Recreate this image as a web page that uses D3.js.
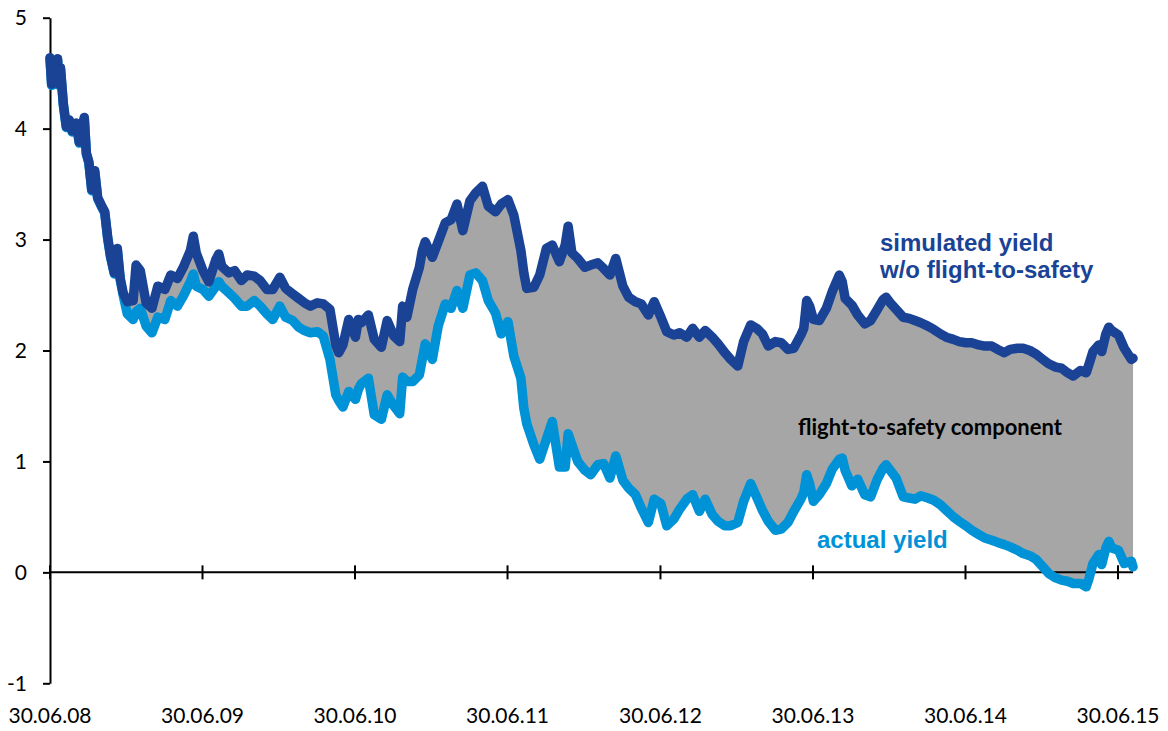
<!DOCTYPE html>
<html>
<head>
<meta charset="utf-8">
<script src="https://cdn.jsdelivr.net/npm/d3@7"></script>
<style>
  html, body { margin: 0; padding: 0; background: #fff; }
  svg { display: block; }
</style>
</head>
<body>
<svg id="chart" width="1168" height="731"></svg>
<script>
// ---------------- data ----------------
const dates = [
  "2008-06-30","2008-07-04","2008-07-08","2008-07-11","2008-07-15","2008-07-18","2008-07-22","2008-07-25","2008-08-01","2008-08-08","2008-08-15","2008-08-22","2008-09-01","2008-09-08","2008-09-15","2008-09-20","2008-09-25","2008-10-01","2008-10-08","2008-10-15","2008-10-22","2008-11-01","2008-11-08","2008-11-15","2008-11-22","2008-12-01","2008-12-08","2008-12-15","2008-12-22",
  "2009-01-01","2009-01-15","2009-01-22","2009-02-01","2009-02-15","2009-03-01","2009-03-15","2009-04-01","2009-04-15","2009-05-01","2009-05-15","2009-06-01","2009-06-08","2009-06-15",
  "2009-07-01","2009-07-15","2009-08-01","2009-08-08","2009-08-15","2009-09-01","2009-09-15","2009-10-01","2009-10-15","2009-11-01","2009-11-15","2009-12-01","2009-12-15",
  "2010-01-01","2010-01-15","2010-02-01","2010-02-15","2010-03-01","2010-03-15","2010-04-01","2010-04-15","2010-05-01","2010-05-15","2010-05-22","2010-06-01","2010-06-15",
  "2010-07-01","2010-07-08","2010-07-15","2010-08-01","2010-08-15","2010-09-01","2010-09-15","2010-10-01","2010-10-15","2010-10-22","2010-11-01","2010-11-15","2010-12-01","2010-12-08","2010-12-15",
  "2011-01-01","2011-01-15","2011-02-01","2011-02-15","2011-03-01","2011-03-15","2011-04-01","2011-04-15","2011-05-01","2011-05-15","2011-06-01","2011-06-15",
  "2011-07-01","2011-07-15","2011-08-01","2011-08-08","2011-08-15","2011-09-01","2011-09-15","2011-10-01","2011-10-15","2011-11-01","2011-11-15","2011-11-22","2011-12-01","2011-12-15",
  "2012-01-01","2012-01-15","2012-02-01","2012-02-15","2012-03-01","2012-03-15","2012-04-01","2012-04-15","2012-05-01","2012-05-15","2012-06-01","2012-06-15",
  "2012-07-01","2012-07-15","2012-08-01","2012-08-15","2012-09-01","2012-09-15","2012-10-01","2012-10-15","2012-11-01","2012-11-15","2012-12-01","2012-12-15",
  "2013-01-01","2013-01-15","2013-02-01","2013-02-15","2013-03-01","2013-03-15","2013-04-01","2013-04-15","2013-05-01","2013-05-15","2013-06-01","2013-06-08","2013-06-15","2013-06-22",
  "2013-07-01","2013-07-15","2013-08-01","2013-08-15","2013-09-01","2013-09-08","2013-09-15","2013-10-01","2013-10-15","2013-11-01","2013-11-15","2013-12-01","2013-12-15","2013-12-22",
  "2014-01-01","2014-01-15","2014-02-01","2014-02-15","2014-03-01","2014-03-15","2014-04-01","2014-04-15","2014-05-01","2014-05-15","2014-06-01","2014-06-15",
  "2014-07-01","2014-07-15","2014-08-01","2014-08-15","2014-09-01","2014-09-15","2014-10-01","2014-10-15","2014-11-01","2014-11-15","2014-12-01","2014-12-15",
  "2015-01-01","2015-01-15","2015-02-01","2015-02-15","2015-03-01","2015-03-15","2015-04-01","2015-04-15","2015-04-22","2015-05-01","2015-05-15","2015-05-22","2015-06-01","2015-06-08","2015-06-15",
  "2015-07-01","2015-07-15","2015-08-01","2015-08-05"
];

// simulated yield w/o flight-to-safety (dark blue)
const simulatedYield = [
  4.64,4.40,4.60,4.42,4.45,4.63,4.40,4.55,4.22,4.02,4.08,3.98,4.05,3.88,4.00,4.10,3.78,3.70,3.45,3.62,3.38,3.30,3.25,3.02,2.85,2.70,2.92,2.65,2.52,
  2.44,2.45,2.77,2.72,2.43,2.38,2.58,2.55,2.68,2.65,2.75,2.90,3.03,2.88,
  2.72,2.62,2.82,2.87,2.76,2.70,2.72,2.63,2.68,2.67,2.63,2.55,2.55,
  2.66,2.56,2.51,2.47,2.43,2.40,2.43,2.42,2.37,2.05,1.98,2.05,2.28,
  2.12,2.28,2.25,2.32,2.10,2.03,2.27,2.13,2.08,2.40,2.30,2.55,2.75,2.90,2.98,
  2.84,2.98,3.15,3.18,3.32,3.08,3.35,3.42,3.48,3.30,3.25,3.32,
  3.36,3.22,2.90,2.70,2.56,2.57,2.68,2.92,2.95,2.80,2.95,3.12,2.88,2.83,
  2.75,2.77,2.79,2.74,2.68,2.83,2.58,2.48,2.44,2.42,2.32,2.44,
  2.30,2.17,2.14,2.16,2.12,2.20,2.12,2.18,2.12,2.06,1.98,1.92,
  1.86,2.08,2.23,2.20,2.15,2.04,2.08,2.07,2.01,2.02,2.14,2.20,2.45,2.40,
  2.28,2.27,2.38,2.53,2.68,2.62,2.47,2.41,2.32,2.24,2.27,2.37,2.46,2.48,
  2.43,2.37,2.30,2.29,2.27,2.25,2.22,2.19,2.15,2.12,2.10,2.08,
  2.07,2.07,2.05,2.04,2.04,2.01,1.98,2.01,2.02,2.02,2.00,1.97,
  1.92,1.88,1.85,1.84,1.80,1.77,1.82,1.80,1.88,1.99,2.05,1.99,2.15,2.21,2.18,
  2.14,2.02,1.92,1.93
];

// actual yield (light blue)
const actualYield = [
  4.63,4.39,4.59,4.41,4.44,4.62,4.39,4.54,4.21,4.01,4.07,3.97,4.04,3.87,3.99,4.09,3.77,3.69,3.44,3.61,3.37,3.29,3.24,3.01,2.84,2.69,2.91,2.64,2.50,
  2.33,2.28,2.35,2.38,2.22,2.16,2.30,2.28,2.45,2.40,2.49,2.62,2.69,2.58,
  2.55,2.49,2.58,2.62,2.58,2.52,2.47,2.40,2.40,2.45,2.40,2.33,2.28,
  2.40,2.30,2.27,2.21,2.18,2.16,2.17,2.13,1.92,1.60,1.55,1.49,1.63,
  1.56,1.65,1.70,1.75,1.42,1.38,1.60,1.50,1.43,1.76,1.72,1.72,1.78,1.92,2.06,
  1.92,2.22,2.42,2.38,2.54,2.38,2.68,2.70,2.63,2.45,2.34,2.15,
  2.26,1.95,1.75,1.48,1.34,1.15,1.02,1.20,1.36,0.95,0.95,1.25,1.15,1.00,
  0.92,0.88,0.97,0.98,0.85,1.05,0.83,0.76,0.70,0.58,0.45,0.66,
  0.62,0.42,0.48,0.57,0.66,0.70,0.55,0.66,0.52,0.46,0.42,0.42,
  0.45,0.64,0.80,0.68,0.56,0.46,0.38,0.39,0.45,0.55,0.66,0.72,0.88,0.80,
  0.64,0.70,0.80,0.93,1.02,1.03,0.92,0.78,0.84,0.70,0.68,0.84,0.94,0.97,
  0.92,0.85,0.68,0.67,0.66,0.69,0.67,0.65,0.61,0.56,0.50,0.46,
  0.42,0.38,0.34,0.31,0.29,0.27,0.25,0.23,0.20,0.17,0.15,0.12,
  0.05,-0.01,-0.05,-0.07,-0.08,-0.10,-0.10,-0.13,-0.05,0.08,0.16,0.07,0.22,0.28,0.22,
  0.20,0.08,0.10,0.05
];

const xTickDates  = ["2008-06-30","2009-06-30","2010-06-30","2011-06-30","2012-06-30","2013-06-30","2014-06-30","2015-06-30"];
const xTickLabels = ["30.06.08","30.06.09","30.06.10","30.06.11","30.06.12","30.06.13","30.06.14","30.06.15"];
const yTicks      = [-1, 0, 1, 2, 3, 4, 5];

// ---------------- chart ----------------
const parse = d3.utcParse("%Y-%m-%d");
const rows = dates.map((d, i) => ({ date: parse(d), sim: simulatedYield[i], act: actualYield[i] }));

const DARK = "#1A4396", LIGHT = "#0092D7", GREY = "#A6A6A6";
const svg = d3.select("#chart");

const x = d3.scaleUtc()
  .domain([parse(xTickDates[0]), parse(xTickDates[xTickDates.length - 1])])
  .range([50, 1118]);
const y = d3.scaleLinear().domain([-1, 5]).range([683.3, 17.7]);

// grey band (flight-to-safety component)
svg.append("path")
  .datum(rows)
  .attr("fill", GREY)
  .attr("d", d3.area().x(d => x(d.date)).y0(d => y(d.act)).y1(d => y(d.sim)));

// y axis
const yAxis = svg.append("g")
  .attr("transform", `translate(${x(parse(xTickDates[0]))},0)`)
  .call(d3.axisLeft(y).tickValues(yTicks).tickSize(7).tickSizeOuter(0).tickPadding(16)
        .tickFormat(d => String(d)));
yAxis.select(".domain").attr("stroke", "#000").attr("stroke-width", 2);
yAxis.selectAll(".tick line").attr("stroke", "#000").attr("stroke-width", 2);
yAxis.selectAll(".tick text")
  .attr("font-family", "Lato, 'Open Sans', sans-serif")
  .attr("font-size", 21).attr("fill", "#000").attr("dy", "0.34em");

// x axis at y = 0, ticks crossing the line
const y0 = y(0);
const xAxis = svg.append("g");
xAxis.append("line")
  .attr("x1", x(rows[0].date)).attr("x2", x(rows[rows.length - 1].date))
  .attr("y1", y0).attr("y2", y0)
  .attr("stroke", "#000").attr("stroke-width", 2);
xAxis.selectAll("line.tick")
  .data(xTickDates)
  .join("line").attr("class", "tick")
  .attr("x1", d => x(parse(d))).attr("x2", d => x(parse(d)))
  .attr("y1", y0 - 7).attr("y2", y0 + 7)
  .attr("stroke", "#000").attr("stroke-width", 2);
xAxis.selectAll("text")
  .data(xTickDates)
  .join("text")
  .attr("x", d => x(parse(d)))
  .attr("y", y(-1) + 40)
  .attr("text-anchor", "middle")
  .attr("font-family", "Lato, 'Open Sans', sans-serif")
  .attr("font-size", 21).attr("fill", "#000")
  .text((d, i) => xTickLabels[i]);

// lines
const lineGen = key => d3.line().x(d => x(d.date)).y(d => y(d[key]));
svg.append("path").datum(rows)
  .attr("fill", "none").attr("stroke", LIGHT).attr("stroke-width", 9.5)
  .attr("stroke-linejoin", "round").attr("stroke-linecap", "round")
  .attr("d", lineGen("act"));
svg.append("path").datum(rows)
  .attr("fill", "none").attr("stroke", DARK).attr("stroke-width", 9.5)
  .attr("stroke-linejoin", "round").attr("stroke-linecap", "round")
  .attr("d", lineGen("sim"));

// annotations
const ann = svg.append("g").attr("font-family", "'Liberation Sans', Arial, sans-serif").attr("font-weight", "bold");
const simLbl = ann.append("text").attr("x", 880).attr("y", 250.5).attr("fill", DARK).attr("font-size", 24);
simLbl.append("tspan").attr("x", 880).text("simulated yield");
simLbl.append("tspan").attr("x", 880).attr("dy", 27).text("w/o flight-to-safety");
ann.append("text").attr("x", 817).attr("y", 548).attr("fill", LIGHT).attr("font-size", 24).text("actual yield");
svg.append("text").attr("x", 798).attr("y", 435)
  .attr("font-family", "Lato, 'Open Sans', sans-serif").attr("font-weight", "bold")
  .attr("font-size", 22).attr("fill", "#000")
  .text("flight-to-safety component");
</script>
</body>
</html>
